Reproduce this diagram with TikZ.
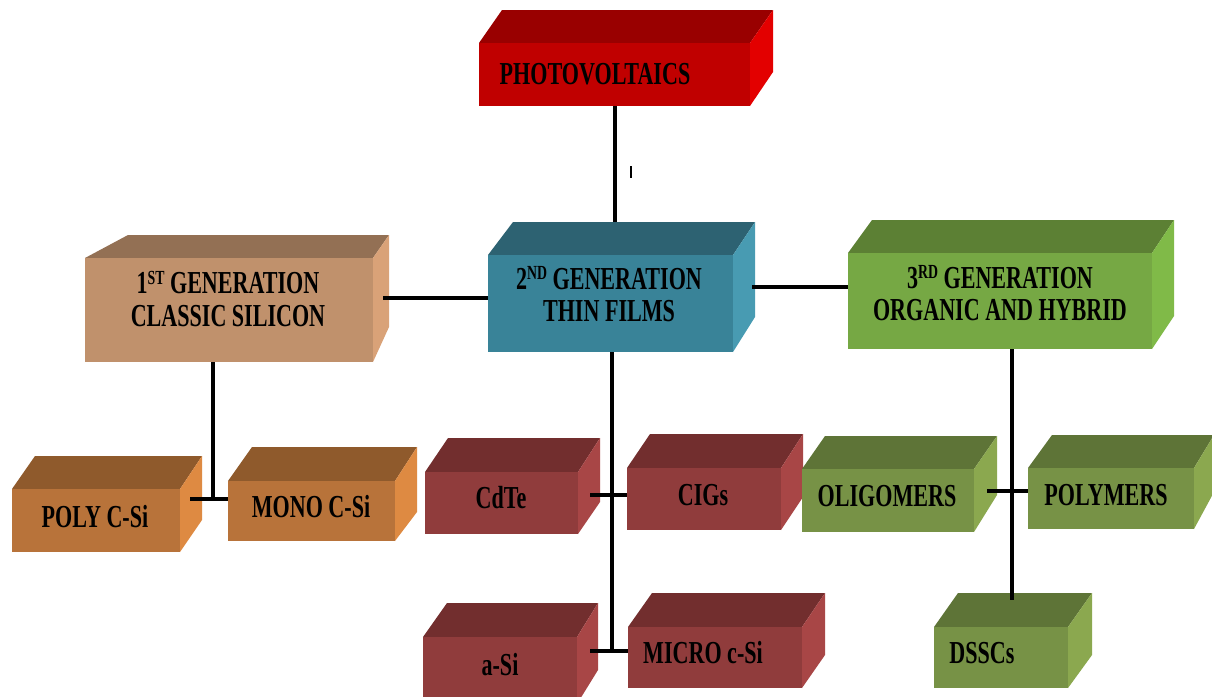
\documentclass[tikz,border=0pt]{standalone}
\usepackage{fontspec}
\newfontfamily\lblfont[FakeStretch=0.69]{Liberation Serif}
\newcommand\supr[1]{\raisebox{0.3em}{\fontsize{20}{20}\selectfont #1}}
\definecolor{pvfront}{HTML}{C00000}\definecolor{pvtop}{HTML}{990000}\definecolor{pvside}{HTML}{E30000}
\definecolor{tanfront}{HTML}{C0916C}\definecolor{tantop}{HTML}{937054}\definecolor{tanside}{HTML}{D9A278}
\definecolor{tealfront}{HTML}{398398}\definecolor{tealtop}{HTML}{2D6272}\definecolor{tealside}{HTML}{489BB2}
\definecolor{grnfront}{HTML}{76A844}\definecolor{grntop}{HTML}{5C8034}\definecolor{grnside}{HTML}{80BA48}
\definecolor{orgfront}{HTML}{B8733A}\definecolor{orgtop}{HTML}{8F5A2C}\definecolor{orgside}{HTML}{DE8A42}
\definecolor{marfront}{HTML}{903C3C}\definecolor{martop}{HTML}{722E2E}\definecolor{marside}{HTML}{A84646}
\definecolor{olvfront}{HTML}{779246}\definecolor{olvtop}{HTML}{5E7437}\definecolor{olvside}{HTML}{8BA84F}
\def\cubgeo#1/#2/#3/#4\relax{\def\cxa{#1}\def\cya{#2}\def\cxb{#3}\def\cyb{#4}}
\def\cubdep#1/#2/#3/#4\relax{\def\cda{#1}\def\cdb{#2}\def\cdd{#3}\def\cde{#4}}
\newcommand\cuboid[4]{%
  \cubgeo#3\relax \cubdep#4\relax
  \fill[#2top] (\cxa,\cya) -- ({\cxa+\cda},{\cya-\cdd}) -- ({\cxb+\cdb},{\cya-\cdd}) -- (\cxb,\cya) -- cycle;
  \fill[#2side] (\cxb,\cya) -- ({\cxb+\cdb},{\cya-\cdd}) -- ({\cxb+\cdb},{\cyb-\cde}) -- (\cxb,\cyb) -- cycle;
  \node[face,fill=#2front,minimum width={(\cxb-\cxa)*1pt},minimum height={(\cyb-\cya)*1pt}] (#1) at ({(\cxa+\cxb)/2},{(\cya+\cyb)/2}) {};
  \coordinate (#1-back) at ({(\cxa+\cxb)/2},{\cya-\cdd});
}
\tikzset{
  face/.style={rectangle,inner sep=0pt,outer sep=0pt,draw=none},
  lbl/.style={inner sep=0pt,align=center,text=black,font=\lblfont\bfseries\fontsize{32}{32}\selectfont},
  conn/.style={draw=black,line width=3.5pt},
}
\begin{document}
\begin{tikzpicture}[x=1pt,y=-1pt]
\fill[white] (0,0) rectangle (1212,696);
\useasboundingbox (0,0) rectangle (1212,696);
% boxes
\cuboid{pv}{pv}{479/43/750/106}{23/23/33/34}
\cuboid{g1}{tan}{85/258/373/362}{43/16/23/35}
\cuboid{g2}{teal}{488/255/733/352}{25/22/33/35}
\cuboid{g3}{grn}{848/253/1152/349}{24/22/33/33}
\cuboid{poly}{org}{12/489/180/552}{23/22/33/32}
\cuboid{mono}{org}{228/481/395/541}{24/22/34/29}
\cuboid{cdte}{mar}{425/472/578/534}{23/22/34/32}
\cuboid{cigs}{mar}{627/468/781/530}{23/22/34/33}
\cuboid{asi}{mar}{423/637/577/704}{24/21/34/34}
\cuboid{micro}{mar}{628/627/802/688}{24/23/34/33}
\cuboid{olig}{olv}{802/469/974/532}{23/23/33/37}
\cuboid{polym}{olv}{1028/468/1194/529}{24/20/33/37}
\cuboid{dssc}{olv}{934/627/1068/688}{24/24/34/33}
% labels
\node[lbl] (pvt) at (595,74) {PHOTOVOLTAICS};
\node[lbl] (g1t) at (228,299) {1\supr{ST} GENERATION\\[1pt] CLASSIC SILICON};
\node[lbl] (g2t) at (609,294) {2\supr{ND} GENERATION\\ THIN FILMS};
\node[lbl] (g3t) at (1000,293) {3\supr{RD} GENERATION\\ ORGANIC AND HYBRID};
\node[lbl] (polyt) at (95,517) {POLY C-Si};
\node[lbl] (monot) at (311,507) {MONO C-Si};
\node[lbl] (cdtet) at (501,498) {CdTe};
\node[lbl] (cigst) at (703,495) {CIGs};
\node[lbl] (asit) at (500,665) {a-Si};
\node[lbl] (microt) at (703,653) {MICRO c-Si};
\node[lbl] (oligt) at (887,496) {OLIGOMERS};
\node[lbl] (polymt) at (1106,495) {POLYMERS};
\node[lbl] (dssct) at (982,653) {DSSCs};
% connectors
\coordinate (j12) at (383,298);
\coordinate (j23) at (752,287);
\coordinate (t1) at (213,499);
\coordinate (p1) at (190,499);
\coordinate (t2) at (612,651);
\coordinate (c1) at (590,495);
\coordinate (a1) at (590,651);
\coordinate (t3) at (1012,600);
\coordinate (o1) at (987,491);
\coordinate (tk) at (631,166);
\draw[conn] ([xshift=0.5pt]pv.south) -- ([xshift=0.5pt]pv.south |- g2-back);
\draw[conn] (j12) -- (j12 -| g2.west);
\draw[conn] (j23) -- (j23 -| g3.west);
\draw[conn] (t1 |- g1.south) -- (t1);
\draw[conn] (p1) -- (p1 -| mono.west);
\draw[conn] (t2 |- g2.south) -- (t2);
\draw[conn] (c1) -- (c1 -| cigs.west);
\draw[conn] (a1) -- (a1 -| micro.west);
\draw[conn] (t3 |- g3.south) -- (t3);
\draw[conn] (o1) -- (o1 -| polym.west);
\draw[line width=1.5pt] (tk) -- ++(0,12);
\end{tikzpicture}
\end{document}
